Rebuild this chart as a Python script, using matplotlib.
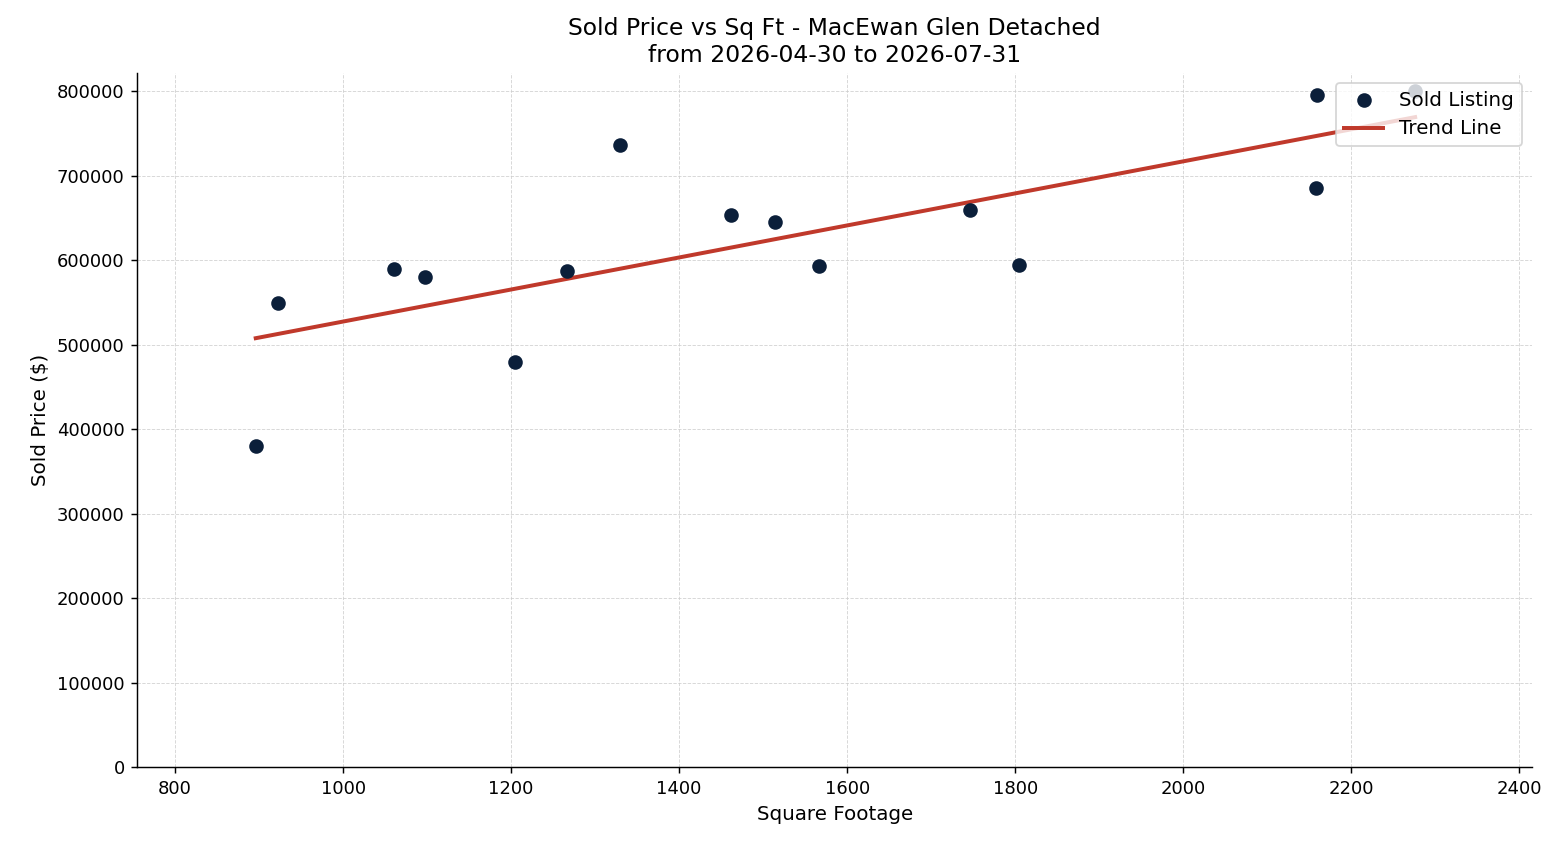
import numpy as np
import matplotlib.pyplot as plt

sqft = [896, 922, 1060, 1098, 1204, 1267, 1330, 1462, 1514, 1567, 1746, 1804, 2158, 2159, 2276]
price = [380000, 550000, 590000, 580000, 480000, 587000, 736000, 653000, 645000, 593000,
         659000, 594000, 685000, 795000, 800000]

x = np.array(sqft)
y = np.array(price)
m, b = np.polyfit(x, y, 1)
xs = np.array([x.min(), x.max()])

fig, ax = plt.subplots(figsize=(12, 6.5), dpi=130)
ax.scatter(x, y, s=50, color='#0b1f3a', label='Sold Listing', zorder=3)
ax.plot(xs, m * xs + b, color='#c0392b', linewidth=2.2, label='Trend Line', zorder=2)

ax.set_xlim(755, 2415)
ax.set_ylim(0, 822000)
ax.set_xticks(range(800, 2401, 200))
ax.set_yticks(range(0, 800001, 100000))
ax.grid(True, linestyle='--', linewidth=0.5, color='#cccccc', alpha=0.8)
ax.spines['top'].set_visible(False)
ax.spines['right'].set_visible(False)
ax.tick_params(labelsize=10)

ax.set_title('Sold Price vs Sq Ft - MacEwan Glen Detached\nfrom 2026-04-30 to 2026-07-31', fontsize=13)
ax.set_xlabel('Square Footage', fontsize=11)
ax.set_ylabel('Sold Price ($)', fontsize=11)
ax.legend(loc='upper right', fontsize=11)

fig.subplots_adjust(left=0.088, right=0.982, top=0.914, bottom=0.092)
fig.savefig('out.png')
